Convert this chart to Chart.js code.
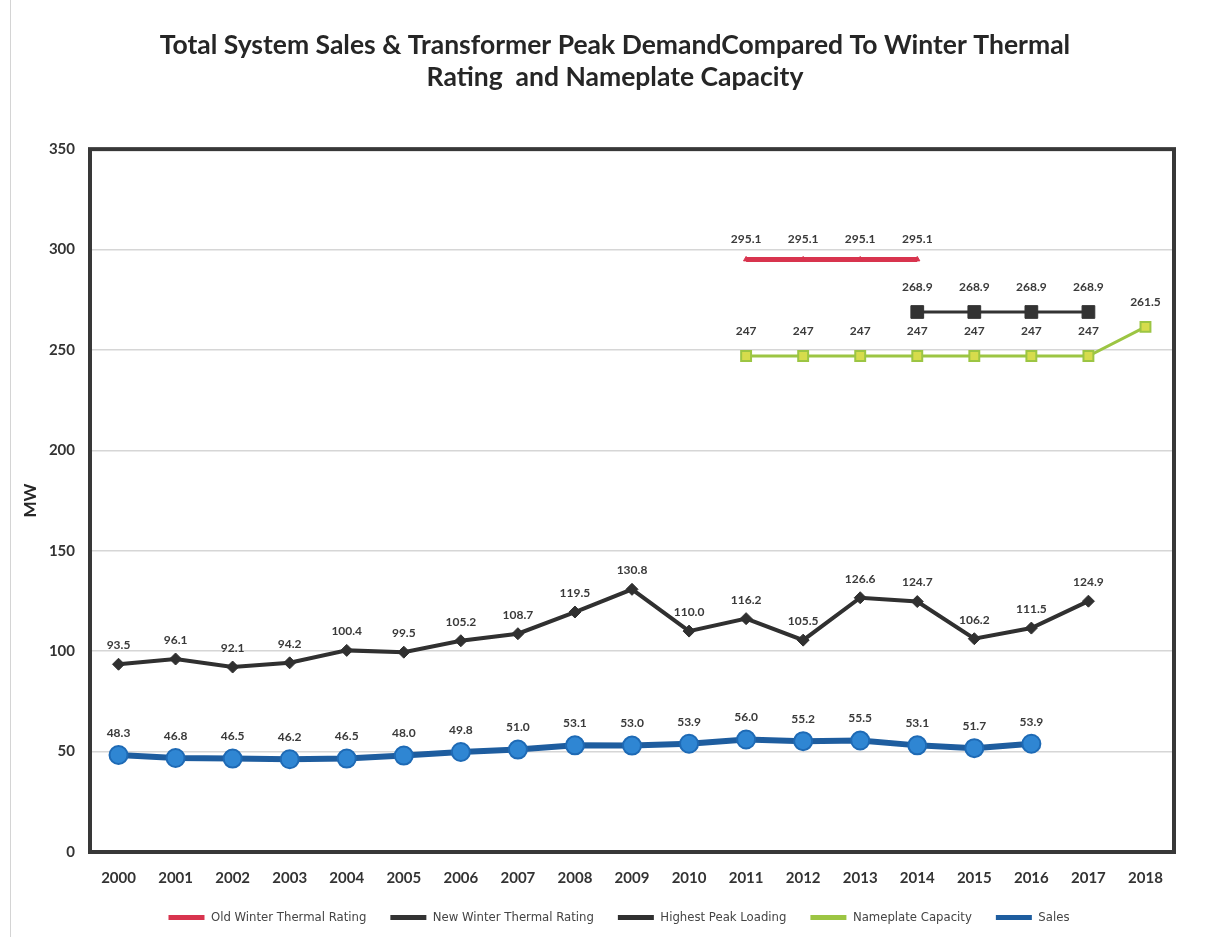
<!DOCTYPE html>
<html>
<head>
<meta charset="utf-8">
<script src="https://cdn.jsdelivr.net/npm/chart.js@4.4.1/dist/chart.umd.min.js"></script>
<style>
  html, body { margin: 0; padding: 0; background: #fff; }
  #wrap { position: relative; width: 1216px; height: 937px; }
  #edge { position: absolute; left: 10px; top: 0; width: 0; height: 937px; border-left: 1px solid #d4d4d4; }
</style>
</head>
<body>
<div id="wrap">
  <div id="edge"></div>
  <canvas id="c" width="1216" height="937"></canvas>
</div>
<script>
const years = ['2000','2001','2002','2003','2004','2005','2006','2007','2008','2009','2010','2011','2012','2013','2014','2015','2016','2017','2018'];
const oldWinterRating = [null,null,null,null,null,null,null,null,null,null,null,295.1,295.1,295.1,295.1,null,null,null,null];
const newWinterRating = [null,null,null,null,null,null,null,null,null,null,null,null,null,null,268.9,268.9,268.9,268.9,null];
const highestPeak = [93.5,96.1,92.1,94.2,100.4,99.5,105.2,108.7,119.5,130.8,110.0,116.2,105.5,126.6,124.7,106.2,111.5,124.9,null];
const nameplate = [null,null,null,null,null,null,null,null,null,null,null,247,247,247,247,247,247,247,261.5];
const sales = [48.3,46.8,46.5,46.2,46.5,48.0,49.8,51.0,53.1,53.0,53.9,56.0,55.2,55.5,53.1,51.7,53.9,null,null];
const yTicks = [0,50,100,150,200,250,300,350];

const frame = {
  id: 'frame',
  beforeDatasetsDraw(chart) {
    const a = chart.chartArea, ctx = chart.ctx;
    ctx.save();
    ctx.strokeStyle = '#383838';
    ctx.lineWidth = 4;
    ctx.strokeRect(a.left, a.top, a.right - a.left, a.bottom - a.top);
    ctx.restore();
  }
};

// shift the centring span of the title and legend to match the original layout
const recentre = {
  id: 'recentre',
  afterLayout(chart) {
    if (chart.titleBlock) chart.titleBlock.left = 56;
    if (chart.legend) chart.legend.left = 64;
  }
};

const valueLabels = {
  id: 'valueLabels',
  afterDatasetsDraw(chart) {
    const ctx = chart.ctx;
    ctx.save();
    ctx.font = 'bold 12px Lato, "Open Sans", sans-serif';
    ctx.fillStyle = '#3a3a3a';
    ctx.textAlign = 'center';
    ctx.textBaseline = 'middle';
    chart.data.datasets.forEach((ds, i) => {
      const meta = chart.getDatasetMeta(i);
      meta.data.forEach((pt, j) => {
        const v = ds.data[j];
        if (v === null || v === undefined) return;
        const txt = ds.labelFmt(v);
        ctx.fillText(txt, pt.x + (ds.labelDx || 0), pt.y - ds.labelDy);
      });
    });
    ctx.restore();
  }
};

new Chart(document.getElementById('c'), {
  type: 'line',
  data: {
    labels: years,
    datasets: [
      {
        label: 'Old Winter Thermal Rating',
        data: oldWinterRating,
        borderColor: '#d8344e',
        backgroundColor: '#d8344e',
        borderWidth: 5,
        pointStyle: 'triangle',
        pointRadius: 3,
        pointBorderWidth: 1,
        labelDy: 20,
        labelFmt: v => v.toFixed(1)
      },
      {
        label: 'New Winter Thermal Rating',
        data: newWinterRating,
        borderColor: '#333333',
        backgroundColor: '#333333',
        borderWidth: 3,
        pointStyle: 'rect',
        pointRadius: 9,
        pointBorderWidth: 1,
        labelDy: 25,
        labelFmt: v => v.toFixed(1)
      },
      {
        label: 'Highest Peak Loading',
        data: highestPeak,
        borderColor: '#303030',
        backgroundColor: '#303030',
        borderWidth: 4,
        pointStyle: 'rectRot',
        pointRadius: 6,
        pointBorderWidth: 1,
        labelDy: 19,
        labelFmt: v => v.toFixed(1)
      },
      {
        label: 'Nameplate Capacity',
        data: nameplate,
        borderColor: '#9cc543',
        backgroundColor: '#d6dc4c',
        borderWidth: 3,
        pointStyle: 'rect',
        pointRadius: 7,
        pointBorderColor: '#9cc543',
        pointBorderWidth: 2,
        labelDy: 25,
        labelFmt: v => String(v)
      },
      {
        label: 'Sales',
        data: sales,
        borderColor: '#1e5d9f',
        backgroundColor: '#2f86d3',
        borderWidth: 6,
        pointStyle: 'circle',
        pointRadius: 9,
        pointBorderColor: '#1e6ab5',
        pointBorderWidth: 2,
        labelDy: 22,
        labelFmt: v => v.toFixed(1)
      }
    ]
  },
  options: {
    responsive: false,
    devicePixelRatio: 1,
    animation: false,
    spanGaps: false,
    layout: { padding: { top: 0, right: 42, bottom: 3, left: 0 } },
    plugins: {
      title: {
        display: true,
        text: ['Total System Sales & Transformer Peak DemandCompared To Winter Thermal', 'Rating  and Nameplate Capacity'],
        color: '#262626',
        font: { family: 'Lato, "Open Sans", sans-serif', size: 26.5, weight: 'bold', lineHeight: 1.21 },
        padding: { top: 29, bottom: 56 }
      },
      legend: {
        display: true,
        position: 'bottom',
        labels: {
          color: '#444444',
          font: { family: '"Liberation Sans Narrow", "DejaVu Sans Condensed", sans-serif', size: 13 },
          boxWidth: 36,
          boxHeight: 5,
          padding: 24,
          generateLabels(chart) {
            return chart.data.datasets.map((ds, i) => ({
              text: ds.label,
              fillStyle: ds.borderColor,
              strokeStyle: ds.borderColor,
              lineWidth: 0,
              fontColor: '#444444',
              datasetIndex: i,
              hidden: false
            }));
          }
        }
      },
      tooltip: { enabled: false }
    },
    scales: {
      x: {
        type: 'category',
        offset: true,
        grid: { display: false, drawTicks: false },
        border: { display: false },
        ticks: { color: '#333333', font: { family: 'Lato, "Open Sans", sans-serif', size: 15, weight: 'bold' }, padding: 17, maxRotation: 0, autoSkip: false },
        afterFit(scale) { scale.height = 35; }
      },
      y: {
        min: 0,
        max: 350,
        afterBuildTicks(scale) { scale.ticks = yTicks.map(v => ({ value: v })); },
        grid: { color: '#d6d6d6', lineWidth: 1.5, drawTicks: false },
        border: { display: false },
        ticks: { color: '#333333', font: { family: 'Lato, "Open Sans", sans-serif', size: 15, weight: 'bold' }, padding: 15 },
        title: { display: true, text: 'MW', color: '#262626', font: { family: 'Lato, "Open Sans", sans-serif', size: 17, weight: 'bold' }, padding: { top: 20, bottom: 0 } },
        afterFit(scale) { scale.width = 90; }
      }
    }
  },
  plugins: [frame, recentre, valueLabels]
});
</script>
</body>
</html>
